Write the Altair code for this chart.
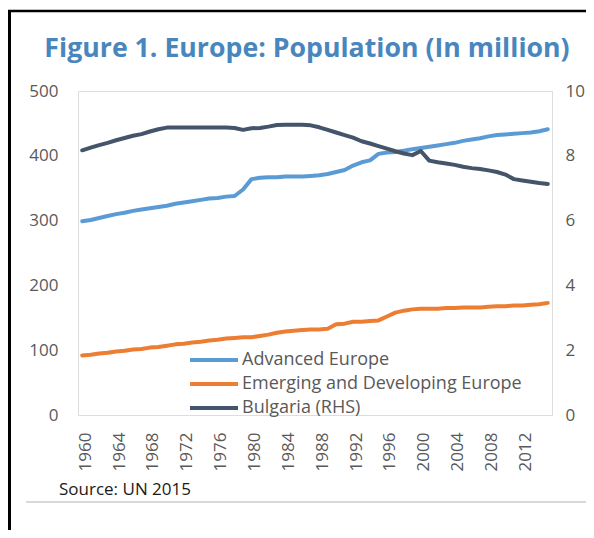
import altair as alt
import pandas as pd

years = list(range(1960, 2016))

advanced = [299, 301, 304, 307, 310, 312, 315, 317, 319, 321,
            323, 326, 328, 330, 332, 334, 335, 337, 338, 348,
            364, 366, 367, 367, 368, 368, 368, 369, 370, 372,
            375, 378, 385, 390, 393, 403, 405, 406, 408, 410,
            412, 414, 416, 418, 420, 423, 425, 427, 430, 432,
            433, 434, 435, 436, 438, 441]

emerging = [92, 93, 95, 96, 98, 99, 101, 102, 104, 105,
            107, 109, 110, 112, 113, 115, 116, 118, 119, 120,
            120, 122, 124, 127, 129, 130, 131, 132, 132, 133,
            140, 141, 144, 144, 145, 146, 152, 158, 161, 163,
            164, 164, 164, 165, 165, 166, 166, 166, 167, 168,
            168, 169, 169, 170, 171, 173]

bulgaria = [8.17, 8.25, 8.33, 8.40, 8.48, 8.55, 8.62, 8.67, 8.75, 8.82,
            8.87, 8.87, 8.87, 8.87, 8.87, 8.87, 8.87, 8.87, 8.86, 8.80,
            8.85, 8.86, 8.90, 8.95, 8.96, 8.96, 8.96, 8.94, 8.88, 8.80,
            8.72, 8.64, 8.56, 8.45, 8.38, 8.30, 8.22, 8.14, 8.07, 8.02,
            8.15, 7.85, 7.80, 7.76, 7.72, 7.66, 7.62, 7.59, 7.55, 7.50,
            7.42, 7.28, 7.24, 7.20, 7.16, 7.13]

series_names = ["Advanced Europe", "Emerging and Developing Europe", "Bulgaria (RHS)"]
series_colors = ["#5B9BD5", "#ED7D31", "#44546A"]
year_ticks = list(range(1960, 2016, 4))
left_ticks = [0, 100, 200, 300, 400, 500]
right_ticks = [0, 2, 4, 6, 8, 10]

title_text = "Figure 1. Europe: Population (In million)"
source_text = "Source: UN 2015"

df = pd.DataFrame({
    "year": years,
    series_names[0]: advanced,
    series_names[1]: emerging,
    series_names[2]: bulgaria,
})

FONT = "Open Sans"
W, H = 474, 324

color_scale = alt.Scale(domain=series_names, range=series_colors)
x_enc = alt.X("year:O", title=None,
              axis=alt.Axis(values=year_ticks, labelAngle=-90, ticks=False, domain=False,
                            labelPadding=17, labelFontSize=17, labelColor="#595959",
                            labelFont=FONT, labelOffset=3, grid=False))

left = alt.Chart(df).transform_fold(
    [series_names[0], series_names[1]], as_=["series", "value"]
).mark_line(strokeWidth=4, strokeCap="round", strokeJoin="round").encode(
    x=x_enc,
    y=alt.Y("value:Q", title=None,
            scale=alt.Scale(domain=[0, 500], nice=False),
            axis=alt.Axis(values=left_ticks, ticks=False, domain=False, grid=False,
                          labelPadding=20, labelFontSize=17, labelColor="#595959",
                          labelFont=FONT, orient="left")),
    color=alt.Color("series:N", scale=color_scale,
                    legend=alt.Legend(title=None, orient="none", legendX=126, legendY=259,
                                      symbolType="M-3,0H3", symbolSize=256, symbolStrokeWidth=4,
                                      labelFontSize=18, labelColor="#595959", labelFont=FONT,
                                      labelLimit=0, rowPadding=5, padding=0, labelOffset=18)),
)

right = alt.Chart(df).transform_fold(
    [series_names[2]], as_=["series", "value"]
).mark_line(strokeWidth=4, strokeCap="round", strokeJoin="round").encode(
    x=x_enc,
    y=alt.Y("value:Q", title=None,
            scale=alt.Scale(domain=[0, 10], nice=False),
            axis=alt.Axis(values=right_ticks, ticks=False, domain=False, grid=False,
                          labelPadding=13, labelFontSize=17, labelColor="#595959",
                          labelFont=FONT, orient="right")),
    color=alt.Color("series:N", scale=color_scale),
)

one = alt.Data(values=[{}])

title = alt.Chart(one).mark_text(
    text=title_text, font=FONT, fontSize=26.7, fontWeight="bold", color="#4A86BE",
    align="center", baseline="alphabetic"
).encode(x=alt.value(229), y=alt.value(-34))

source = alt.Chart(one).mark_text(
    text=source_text, font=FONT, fontSize=17, color="#1a1a1a",
    align="left", baseline="alphabetic"
).encode(x=alt.value(-19), y=alt.value(404))

top_line = alt.Chart(one).mark_rule(color="black", strokeWidth=2.5).encode(
    x=alt.value(-70), x2=alt.value(520), y=alt.value(-80))
left_line = alt.Chart(one).mark_rule(color="black", strokeWidth=3).encode(
    x=alt.value(-68.5), y=alt.value(-80), y2=alt.value(450))
grey_line = alt.Chart(one).mark_rule(color="#d9d9d9", strokeWidth=2).encode(
    x=alt.value(-52), x2=alt.value(520), y=alt.value(411))

chart = alt.layer(left, right, title, source, top_line, left_line, grey_line).resolve_scale(
    y="independent"
).properties(
    width=W, height=H,
    autosize=alt.AutoSizeParams(type="none"),
    padding={"left": 70, "top": 83, "right": 34, "bottom": 115},
).configure_view(stroke="#c8c8c8", strokeWidth=1).configure(background="white")

chart.save("out.html", embed_options={"renderer": "svg", "actions": False})
